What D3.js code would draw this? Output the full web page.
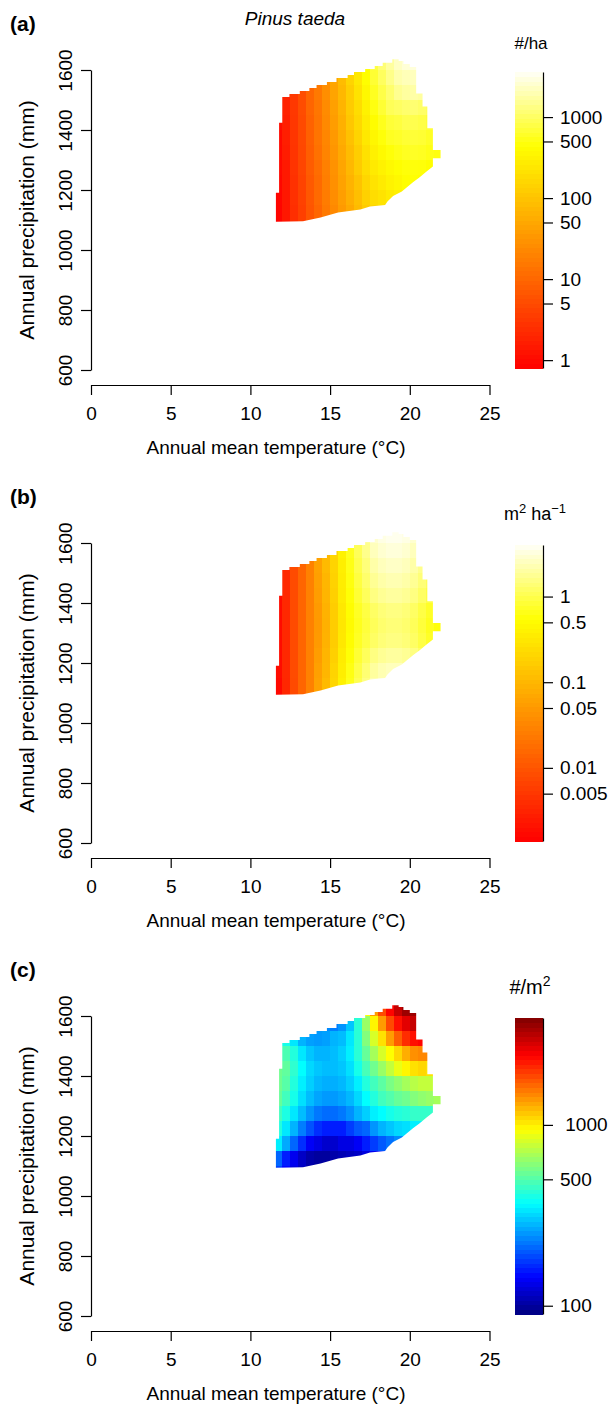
<!DOCTYPE html>
<html>
<head>
<meta charset="utf-8">
<script src="https://cdnjs.cloudflare.com/ajax/libs/d3/7.8.5/d3.min.js"></script>
<style>
  body { margin: 0; background: #fff; }
  svg text { font-family: "Liberation Sans", Arial, Helvetica, sans-serif; fill: #000; }
</style>
</head>
<body>
<div id="chart"></div>
<script>
// grid cells: lower-left temperature (°C) of each column, lower precipitation (mm) of each row
const tempStarts = [11.5, 12, 12.5, 13, 13.5, 14, 14.5, 15, 15.5, 16, 16.5, 17, 17.5, 18, 18.5, 19, 19.5, 20, 20.5, 21, 21.5];
const precipStarts = [1600, 1550, 1500, 1450, 1400, 1350, 1300, 1250, 1200, 1150, 1100, 1050];

// outline of the climate envelope (temperature, precipitation)
const outlineT = [11.6, 11.6, 11.8, 11.8, 12.0, 12.0, 12.45, 12.45, 13.1, 13.1, 13.7, 13.7, 14.15, 14.15, 14.8, 14.8, 15.4, 15.4, 16.1, 16.1, 16.5, 16.5, 17.2, 17.2, 17.8, 17.8, 18.3, 18.3, 18.9, 18.9, 19.3, 19.3, 19.6, 19.6, 20.0, 20.0, 20.4, 20.4, 20.8, 20.8, 21.1, 21.1, 21.45, 21.45, 21.93, 21.93, 21.45, 21.45, 21.05, 20.6, 20.2, 19.8, 19.5, 18.95, 18.6, 18.45, 17.5, 16.9, 15.5, 14.4, 13.3];
const outlineP = [1094, 1191, 1191, 1424, 1424, 1510, 1510, 1520, 1520, 1530, 1530, 1540, 1540, 1550, 1550, 1560, 1560, 1573, 1573, 1583, 1583, 1593, 1593, 1603, 1603, 1613, 1613, 1624, 1624, 1636, 1636, 1630, 1630, 1620, 1620, 1610, 1610, 1522, 1522, 1478, 1478, 1406, 1406, 1333, 1333, 1306, 1306, 1278, 1262, 1242, 1226, 1208, 1195, 1180, 1162, 1150, 1145, 1135, 1125, 1108, 1096];

const _ = null;

// (a) tree density, #/ha
const densityHa = [
  [_, _, _, _, _, _, _, _, _, _, 290, 490, 800, 1200, 1700, 2300, 2700, 2800, _, _, _],
  [_, _, _, _, _, 17, 29, 49, 83, 150, 250, 430, 680, 980, 1400, 1900, 2100, 2200, _, _, _],
  [_, 1.9, 3.3, 5.5, 10, 16, 27, 46, 76, 130, 220, 370, 580, 810, 1100, 1500, 1700, 1800, 1700, _, _],
  [_, 1.8, 3.2, 5.2, 9.8, 15, 25, 42, 69, 120, 190, 320, 500, 680, 920, 1000, 1100, 1150, 1050, 950, _],
  [1.1, 1.7, 3.1, 5.0, 9.1, 14, 24, 39, 63, 110, 170, 280, 420, 560, 700, 750, 850, 850, 800, 700, _],
  [1.0, 1.7, 3.0, 4.8, 8.7, 14, 22, 35, 58, 94, 150, 250, 360, 470, 580, 620, 680, 700, 680, 600, _],
  [1.0, 1.6, 2.9, 4.6, 8.1, 13, 21, 33, 52, 84, 130, 210, 310, 390, 470, 530, 580, 600, 580, 530, 500],
  [1.0, 1.5, 2.8, 4.4, 7.8, 12, 19, 30, 48, 75, 120, 190, 260, 320, 380, 430, 470, 480, 470, 430, _],
  [0.95, 1.5, 2.7, 4.2, 7.3, 11, 18, 28, 44, 67, 100, 160, 220, 270, 330, 370, 430, 450, 430, _, _],
  [0.91, 1.4, 2.6, 4.0, 6.9, 11, 17, 26, 40, 60, 91, 140, 190, 220, 270, 300, 340, _, _, _, _],
  [0.89, 1.4, 2.5, 3.8, 6.5, 10, 16, 24, 36, 53, 81, 120, 160, 190, _, _, _, _, _, _, _],
  [0.85, 1.3, 2.4, 3.6, 6.2, _, _, _, _, _, _, _, _, _, _, _, _, _, _, _, _]
];

// (b) basal area, m2/ha
const basalArea = [
  [_, _, _, _, _, _, _, _, _, _, 1.23, 1.89, 2.91, 3.41, 3.69, 3.69, 3.41, 2.91, _, _, _],
  [_, _, _, _, _, 0.064, 0.11, 0.21, 0.40, 0.69, 1.12, 1.67, 2.48, 2.91, 3.15, 3.15, 2.91, 2.48, _, _, _],
  [_, 0.0036, 0.0081, 0.015, 0.029, 0.061, 0.11, 0.20, 0.38, 0.65, 1.02, 1.46, 2.12, 2.48, 2.69, 2.69, 2.48, 2.12, 1.67, _, _],
  [_, 0.0036, 0.0081, 0.015, 0.029, 0.058, 0.10, 0.19, 0.36, 0.61, 0.92, 1.29, 1.80, 2.12, 2.29, 2.29, 2.12, 1.80, 1.42, 1.12, _],
  [0.0018, 0.0036, 0.0081, 0.015, 0.029, 0.055, 0.097, 0.18, 0.35, 0.57, 0.84, 1.14, 1.54, 1.80, 1.95, 1.95, 1.80, 1.54, 1.21, 0.95, _],
  [0.0018, 0.0036, 0.0081, 0.015, 0.029, 0.051, 0.090, 0.17, 0.32, 0.52, 0.73, 0.94, 1.21, 1.42, 1.54, 1.54, 1.42, 1.21, 0.95, 0.75, _],
  [0.0018, 0.0036, 0.0081, 0.015, 0.029, 0.050, 0.088, 0.17, 0.31, 0.50, 0.69, 0.88, 1.12, 1.31, 1.42, 1.42, 1.31, 1.12, 0.88, 0.69, 0.59],
  [0.0018, 0.0036, 0.0081, 0.015, 0.029, 0.051, 0.090, 0.17, 0.32, 0.52, 0.73, 0.94, 1.21, 1.42, 1.54, 1.54, 1.42, 1.21, 0.95, 0.75, _],
  [0.0018, 0.0036, 0.0081, 0.015, 0.029, 0.055, 0.097, 0.18, 0.35, 0.57, 0.84, 1.14, 1.54, 1.80, 1.95, 1.95, 1.80, 1.54, 1.21, _, _],
  [0.0018, 0.0036, 0.0081, 0.015, 0.029, 0.059, 0.10, 0.20, 0.37, 0.63, 0.96, 1.38, 1.95, 2.29, 2.48, 2.48, 2.29, _, _, _, _],
  [0.0017, 0.0035, 0.0080, 0.015, 0.029, 0.062, 0.11, 0.21, 0.39, 0.67, 1.07, 1.56, 2.29, 2.69, _, _, _, _, _, _, _],
  [0.0017, 0.0034, 0.0078, 0.014, 0.028, _, _, _, _, _, _, _, _, _, _, _, _, _, _, _, _]
];

// (c) seedling density, #/m2
const densityM2 = [
  [_, _, _, _, _, _, _, _, _, _, 730, 950, 1370, 1850, 2400, 3000, 3500, 3500, _, _, _],
  [_, _, _, _, _, 250, 240, 230, 250, 300, 430, 650, 980, 1370, 1850, 2300, 2700, 3000, _, _, _],
  [_, 400, 340, 280, 260, 255, 260, 280, 290, 340, 430, 600, 820, 1060, 1370, 1720, 2070, 2300, 2400, _, _],
  [_, 490, 420, 340, 300, 280, 280, 290, 310, 350, 430, 540, 680, 820, 950, 1100, 1280, 1430, 1480, 1480, _],
  [560, 530, 440, 370, 320, 300, 290, 290, 300, 330, 400, 480, 560, 650, 760, 880, 980, 1060, 1100, 1060, _],
  [560, 510, 420, 350, 310, 285, 275, 275, 285, 310, 350, 420, 470, 520, 580, 630, 680, 730, 760, 760, _],
  [540, 470, 400, 330, 290, 265, 255, 255, 265, 285, 320, 370, 420, 470, 500, 540, 560, 600, 630, 650, 680],
  [470, 410, 340, 290, 250, 225, 215, 215, 225, 245, 280, 310, 350, 370, 400, 420, 430, 450, 450, 450, _],
  [420, 340, 280, 230, 195, 170, 160, 160, 160, 180, 200, 210, 250, 280, 300, 320, 330, 350, 350, _, _],
  [350, 270, 210, 170, 140, 130, 120, 120, 130, 130, 140, 160, 180, 200, 220, 240, 250, _, _, _, _],
  [210, 160, 136, 117, 105, 101, 101, 105, 109, 113, 117, 127, 136, 147, _, _, _, _, _, _, _],
  [184, 147, 127, 113, 109, _, _, _, _, _, _, _, _, _, _, _, _, _, _, _, _]
];

const xTicks = [0, 5, 10, 15, 20, 25];
const yTicks = [600, 800, 1000, 1200, 1400, 1600];
const legendTicksA = [1, 5, 10, 50, 100, 500, 1000];
const legendLabelsA = ['1', '5', '10', '50', '100', '500', '1000'];
const legendTicksB = [0.005, 0.01, 0.05, 0.1, 0.5, 1];
const legendLabelsB = ['0.005', '0.01', '0.05', '0.1', '0.5', '1'];
const legendTicksC = [100, 500, 1000];
const legendLabelsC = ['100', '500', ' 1000'];

const W = 616, H = 1407;
const FS = 19;

const svg = d3.select('#chart').append('svg')
  .attr('width', W).attr('height', H);
svg.append('rect').attr('width', W).attr('height', H).attr('fill', '#fff');

// R heat.colors style: red -> yellow over first 3/4, then fading to white
function heatColor(t) {
  t = Math.max(0, Math.min(1, t));
  if (t < 0.75) return d3.hsl(80 * t, 1, 0.5).formatHex();
  const b = Math.round(255 * 0.97 * (t - 0.75) / 0.25);
  return d3.rgb(255, 255, b).formatHex();
}

const jet = d3.scaleLinear()
  .domain([0, 0.125, 0.375, 0.625, 0.875, 1])
  .range(['#00007f', '#0000ff', '#00ffff', '#ffff00', '#ff0000', '#7f0000'])
  .clamp(true);

const x = d3.scaleLinear().domain([0, 25]).range([91, 489.5]);

const panels = [
  {id: 'a', top: 0, label: '(a)', values: densityHa, domain: [0.8, 3600], ramp: heatColor,
   ticks: legendTicksA, labels: legendLabelsA,
   unit: ['#/ha'], unitX: 531, unitY: 49, unitSize: 17},
  {id: 'b', top: 473, label: '(b)', values: basalArea, domain: [0.0014, 4], ramp: heatColor,
   ticks: legendTicksB, labels: legendLabelsB,
   unit: ['m', '2', ' ha', '\u22121'], unitX: 535, unitY: 47, unitSize: 18},
  {id: 'c', top: 946, label: '(c)', values: densityM2, domain: [90, 3900], ramp: jet,
   ticks: legendTicksC, labels: legendLabelsC,
   unit: ['#/m', '2'], unitX: 530, unitY: 48, unitSize: 20}
];

panels.forEach(drawPanel);

function drawPanel(p) {
  const g = svg.append('g');
  const y = d3.scaleLinear().domain([600, 1600]).range([p.top + 370, p.top + 70]);
  const toT = d3.scaleLog().domain(p.domain).range([0, 1]).clamp(true);

  // clip to the envelope outline
  const pts = outlineT.map((t, i) => [x(t), y(outlineP[i])]);
  g.append('clipPath').attr('id', 'clip-' + p.id)
    .append('path').attr('d', d3.line()(pts) + 'Z');

  const cells = [];
  p.values.forEach((row, i) => row.forEach((v, j) => {
    if (v !== null) cells.push({t: tempStarts[j], pr: precipStarts[i], v: v});
  }));

  g.append('g')
    .attr('clip-path', 'url(#clip-' + p.id + ')')
    .attr('shape-rendering', 'crispEdges')
    .selectAll('rect').data(cells).join('rect')
    .attr('x', d => x(d.t))
    .attr('y', d => y(d.pr + 50))
    .attr('width', d => x(d.t + 0.5) - x(d.t))
    .attr('height', d => y(d.pr) - y(d.pr + 50))
    .attr('fill', d => p.ramp(toT(d.v)));

  // axes
  const yAxis = g.append('g')
    .attr('transform', 'translate(91,0)')
    .call(d3.axisLeft(y).tickValues(yTicks).tickFormat(d3.format('d'))
      .tickSize(10).tickSizeOuter(0));
  yAxis.selectAll('.tick text')
    .attr('x', null).attr('dy', null)
    .attr('text-anchor', 'middle')
    .attr('transform', 'translate(-19,0) rotate(-90)');

  const xAxis = g.append('g')
    .attr('transform', 'translate(0,' + (p.top + 385) + ')')
    .call(d3.axisBottom(x).tickValues(xTicks).tickSize(10).tickSizeOuter(0).tickPadding(11.5));

  [yAxis, xAxis].forEach(a => {
    a.attr('font-size', FS).attr('font-family', null);
    a.selectAll('path, line').attr('stroke', '#000').attr('stroke-width', 1.2);
  });

  g.append('text')
    .attr('x', 276).attr('y', p.top + 454)
    .attr('text-anchor', 'middle').attr('font-size', FS)
    .text('Annual mean temperature (\u00b0C)');

  g.append('text')
    .attr('transform', 'translate(34,' + (p.top + 220) + ') rotate(-90)')
    .attr('text-anchor', 'middle').attr('font-size', 21)
    .text('Annual precipitation (mm)');

  g.append('text')
    .attr('x', 10).attr('y', p.top + 31)
    .attr('font-size', 21).attr('font-weight', 'bold')
    .text(p.label);

  // colour legend
  const barTop = p.top + 72, barBot = p.top + 368;
  const n = 64;
  const barY = d3.scaleLinear().domain([0, 1]).range([barBot, barTop]);
  g.append('g').attr('shape-rendering', 'crispEdges')
    .selectAll('rect').data(d3.range(n)).join('rect')
    .attr('x', 515).attr('width', 28)
    .attr('y', i => barY((i + 1) / n))
    .attr('height', i => barY(i / n) - barY((i + 1) / n) + 0.5)
    .attr('fill', i => p.ramp((i + 0.5) / n));

  const legScale = d3.scaleLog().domain(p.domain).range([barBot, barTop]);
  const leg = g.append('g')
    .attr('transform', 'translate(543,0)')
    .call(d3.axisRight(legScale).tickValues(p.ticks)
      .tickFormat((d, i) => p.labels[i]).tickSize(10).tickSizeOuter(0).tickPadding(7));
  leg.attr('font-size', FS).attr('font-family', null);
  leg.selectAll('.tick text').style('white-space', 'pre');
  leg.selectAll('path, line').attr('stroke', '#000').attr('stroke-width', 1.2);

  const unit = g.append('text')
    .attr('x', p.unitX).attr('y', p.top + p.unitY)
    .attr('text-anchor', 'middle').attr('font-size', p.unitSize);
  p.unit.forEach((s, i) => {
    const sup = i % 2 === 1;
    unit.append('tspan')
      .attr('font-size', sup ? Math.round(p.unitSize * 0.7) : p.unitSize)
      .attr('baseline-shift', sup ? '55%' : null)
      .style('white-space', 'pre')
      .text(s);
  });
}

// species name over the first panel
svg.append('text')
  .attr('x', 295).attr('y', 25)
  .attr('text-anchor', 'middle').attr('font-size', FS).attr('font-style', 'italic')
  .text('Pinus taeda');
</script>
</body>
</html>
